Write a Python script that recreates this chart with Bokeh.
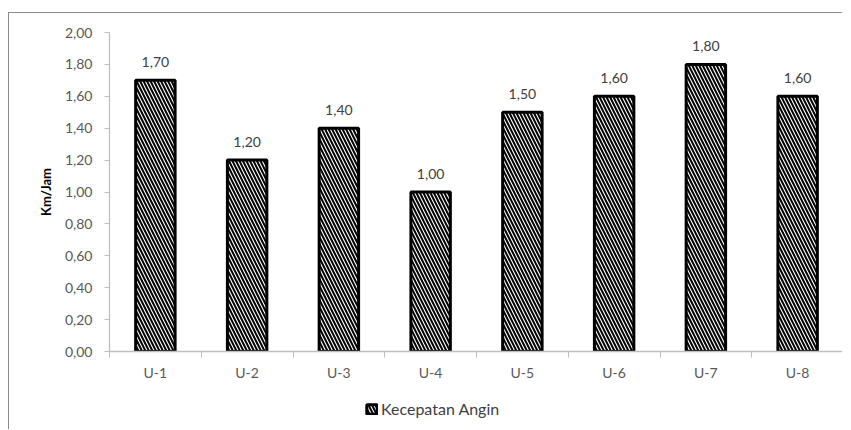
from bokeh.plotting import figure
from bokeh.layouts import column
from bokeh.models import (Range1d, FixedTicker, ColumnDataSource, LabelSet,
                          Legend, LegendItem)
from bokeh.core.properties import value
from bokeh.embed import file_html
from bokeh.resources import INLINE

categories = ["U-1", "U-2", "U-3", "U-4", "U-5", "U-6", "U-7", "U-8"]
values = [1.70, 1.20, 1.40, 1.00, 1.50, 1.60, 1.80, 1.60]
y_ticks = [0.0, 0.2, 0.4, 0.6, 0.8, 1.0, 1.2, 1.4, 1.6, 1.8, 2.0]
series_name = "Kecepatan Angin"
y_title = "Km/Jam"

def fmt(v):
    return f"{v:.2f}".replace(".", ",")

FONT = "Lato"
BORDER = "1px solid #8c8c8c"
BAR_STYLE = dict(fill_color="white", line_color="black", line_width=3,
                 hatch_pattern="\\", hatch_color="black", hatch_scale=7,
                 hatch_weight=2)

xpos = [i + 0.5 for i in range(len(categories))]
src = ColumnDataSource(dict(x=xpos, top=values, label=[fmt(v) for v in values],
                            cat=categories))

p = figure(width=834, height=383, output_backend="svg", toolbar_location=None,
           x_range=Range1d(0, len(categories)), y_range=Range1d(0, 2.0),
           min_border_left=100, min_border_right=0, min_border_top=19,
           min_border_bottom=45)
p.margin = (12, 0, 0, 8)
p.styles = {"border-top": BORDER, "border-left": BORDER}
p.outline_line_color = None
p.grid.visible = False
p.background_fill_color = "white"
p.border_fill_color = "white"

r = p.vbar(x="x", top="top", width=0.43, source=src, **BAR_STYLE)

# x axis
xa = p.xaxis[0]
xa.ticker = FixedTicker(ticks=xpos, minor_ticks=list(range(len(categories) + 1)))
xa.major_label_overrides = {x: c for x, c in zip(xpos, categories)}
xa.major_tick_line_color = None
xa.minor_tick_line_color = "#bfbfbf"
xa.minor_tick_in = 0
xa.minor_tick_out = 6
xa.axis_line_color = "#bfbfbf"
xa.axis_line_width = 1.3
xa.major_label_standoff = 6
xa.major_label_text_font = FONT
xa.major_label_text_font_size = "14px"
xa.major_label_text_color = "#595959"

# y axis
ya = p.yaxis[0]
ya.ticker = FixedTicker(ticks=y_ticks, minor_ticks=[])
ya.major_label_overrides = {t: fmt(t) for t in y_ticks}
ya.major_tick_line_color = "#bfbfbf"
ya.major_tick_in = 0
ya.major_tick_out = 5
ya.axis_line_color = "#bfbfbf"
ya.axis_line_width = 1.3
ya.major_label_standoff = 12
ya.major_label_text_font = FONT
ya.major_label_text_font_size = "14px"
ya.major_label_text_color = "#595959"
ya.axis_label = y_title
ya.axis_label_text_font = FONT
ya.axis_label_text_font_style = "bold"
ya.axis_label_text_font_size = "13px"
ya.axis_label_text_color = "#000000"
ya.axis_label_standoff = 8

labels = LabelSet(x="x", y="top", text="label", source=src, text_align="center",
                  text_baseline="bottom", y_offset=13, text_font=value(FONT),
                  text_font_size="14px", text_color="#404040")
p.add_layout(labels)

# legend strip below the chart (its renderer's bars fall outside its range)
p2 = figure(width=834, height=34, output_backend="svg", toolbar_location=None,
            x_axis_type=None, y_axis_type=None, min_border=0,
            x_range=Range1d(-3, -2), y_range=Range1d(0, 2.0))
p2.margin = (0, 0, 0, 8)
p2.styles = {"border-left": BORDER}
p2.outline_line_color = None
p2.grid.visible = False
p2.background_fill_color = "white"
p2.border_fill_color = "white"
lr = p2.vbar(x="x", top="top", width=0.43, source=src, **BAR_STYLE)

legend = Legend(items=[LegendItem(label=series_name, renderers=[lr])],
                location=(256, 11), orientation="horizontal",
                label_text_font=FONT, label_text_font_size="16px",
                label_text_color="#404040", glyph_width=13, glyph_height=12,
                label_standoff=3, padding=0, margin=0,
                border_line_color=None, background_fill_alpha=0)
p2.add_layout(legend, "center")

open("out.html", "w").write(file_html(column(p, p2), INLINE))
